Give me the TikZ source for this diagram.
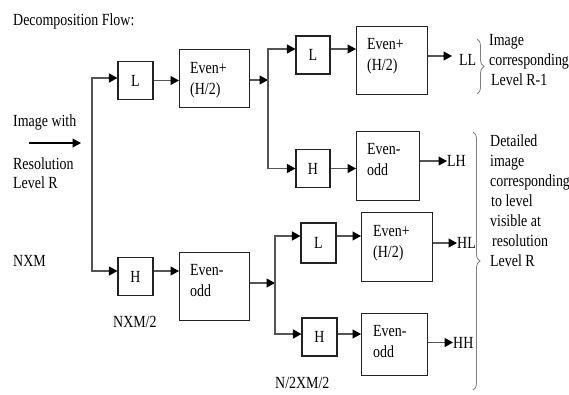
\documentclass[tikz,border=0pt]{standalone}
\usepackage{fontspec}
\setmainfont[FakeStretch=0.82]{Liberation Serif}
\usetikzlibrary{arrows.meta,decorations.pathreplacing,calc}
\definecolor{linecol}{HTML}{555555}
\definecolor{boxcol}{HTML}{222222}
\begin{document}
\begin{tikzpicture}[x=1pt,y=-1pt,
  font=\fontsize{17}{21}\selectfont,
  box/.style={draw=boxcol,line width=1.1pt,inner sep=0pt},
  sbox/.style={box,minimum width=35pt,minimum height=38pt},
  ebox/.style={box,anchor=north west},
  btxt/.style={inner sep=0pt,anchor=base west,align=left},
  arr/.style={draw=linecol,line width=1.3pt,-{Triangle[length=8.5pt,width=9pt,color=black]}},
  lbl/.style={inner sep=0pt,anchor=base west},
  olbl/.style={inner sep=0pt,anchor=west},
  brc/.style={draw=gray,line width=0.8pt,decorate,decoration={brace,amplitude=7pt}}
]
\useasboundingbox (0,0) rectangle (569,394);
% texts
\node[lbl] (title) at (13,25) {Decomposition Flow:};
\node[lbl] (img) at (13,126) {Image with};
\node[lbl] (res) at (13,169.5) {Resolution};
\node[lbl] (lvl) at (13,188) {Level R};
\node[lbl] (nxm) at (13,266) {NXM};
\node[lbl] (nxm2) at (113,327) {NXM/2};
\node[lbl] (n2xm2) at (275,388) {N/2XM/2};
% small boxes
\node[sbox] (L1) at (135.5,80.5) {L};
\node[sbox] (H1) at (135.5,276.5) {H};
\node[sbox,minimum width=34pt] (L2) at (313,55) {L};
\node[sbox,minimum width=34pt] (H2) at (313,168.5) {H};
\node[sbox,minimum height=40pt] (L3) at (318.5,243) {L};
\node[sbox] (H3) at (319.5,337) {H};
% even boxes
\node[ebox,minimum width=70pt,minimum height=58pt] (E1) at (179,49) {};
\node[ebox,minimum width=70pt,minimum height=68pt] (Eo1) at (179,252) {};
\node[ebox,minimum width=71pt,minimum height=68pt] (E2) at (356,26) {};
\node[ebox,minimum width=63pt,minimum height=69pt] (Eo2) at (356,131) {};
\node[ebox,minimum width=71pt,minimum height=69pt] (E3) at (361,212) {};
\node[ebox,minimum width=66pt,minimum height=62pt] (Eo3) at (361,313) {};
\node[btxt] (E1t) at (190,94.5) {Even+\\(H/2)};
\node[btxt] (Eo1t) at (190,296) {Even-\\odd};
\node[btxt] (E2t) at (367,70.5) {Even+\\(H/2)};
\node[btxt] (Eo2t) at (367,175.5) {Even-\\odd};
\node[btxt] (E3t) at (373,257.5) {Even+\\(H/2)};
\node[btxt] (Eo3t) at (373,357.5) {Even-\\odd};
% outputs
\node[olbl] (LL) at (459,59.5) {LL};
\node[olbl] (LH) at (447,161) {LH};
\node[olbl] (HL) at (457,243) {HL};
\node[olbl] (HH) at (453,342.5) {HH};
% brace texts
\node[btxt,font=\fontsize{17}{20}\selectfont] (t1) at (489,85) {Image\\corresponding\\\hspace{2pt}Level R-1};
\node[btxt,font=\fontsize{17}{20}\selectfont] (t2) at (490,266) {Detailed\\image\\corresponding\\\hspace{1pt}to level\\visible at\\\hspace{2pt}resolution\\Level R};
% input arrow
\coordinate (i0) at (29,143);
\coordinate (i1) at (81,143);
\draw[arr,draw=black] (i0) -- (i1);
% trunk
\coordinate (b0) at (92,175);
\draw[arr] (b0) |- ([yshift=2.5pt]L1.west);
\draw[arr] (b0) |- ([yshift=5.5pt]H1.west);
\draw[arr] (L1.east) -- (L1.east -| E1.west);
\draw[arr] ([yshift=5.5pt]H1.east) -- ([yshift=5.5pt]H1.east -| Eo1.west);
% upper branch
\coordinate (b1) at (268,80);
\draw[arr] (E1.east |- b1) -- (b1);
\draw[arr] (b1) |- ([yshift=6pt]L2.west);
\draw[arr] (b1) |- (H2.west);
\draw[arr] ([yshift=6pt]L2.east) -- ([yshift=6pt]L2.east -| E2.west);
\draw[arr] (H2.east) -- (H2.east -| Eo2.west);
\draw[arr] ([yshift=3.5pt]E2.east |- LL) -- ([yshift=3.5pt,xshift=-7pt]LL.west);
\draw[arr] (Eo2.east |- LH) -- (LH.west);
% lower branch
\coordinate (b2) at (275,283);
\draw[arr] (Eo1.east |- b2) -- (b2);
\draw[arr] (b2) |- ([yshift=7pt]L3.west);
\draw[arr] (b2) |- ([yshift=3pt]H3.west);
\draw[arr] ([yshift=7pt]L3.east) -- ([yshift=7pt]L3.east -| E3.west);
\draw[arr] ([yshift=3pt]H3.east) -- ([yshift=3pt]H3.east -| Eo3.west);
\draw[arr] (E3.east |- HL) -- (HL.west);
\draw[arr] (Eo3.east |- HH) -- (HH.west);
% braces
\draw[brc] (477,39) -- (477,94);
\draw[brc] (473,132) -- (473,390);
\end{tikzpicture}
\end{document}
